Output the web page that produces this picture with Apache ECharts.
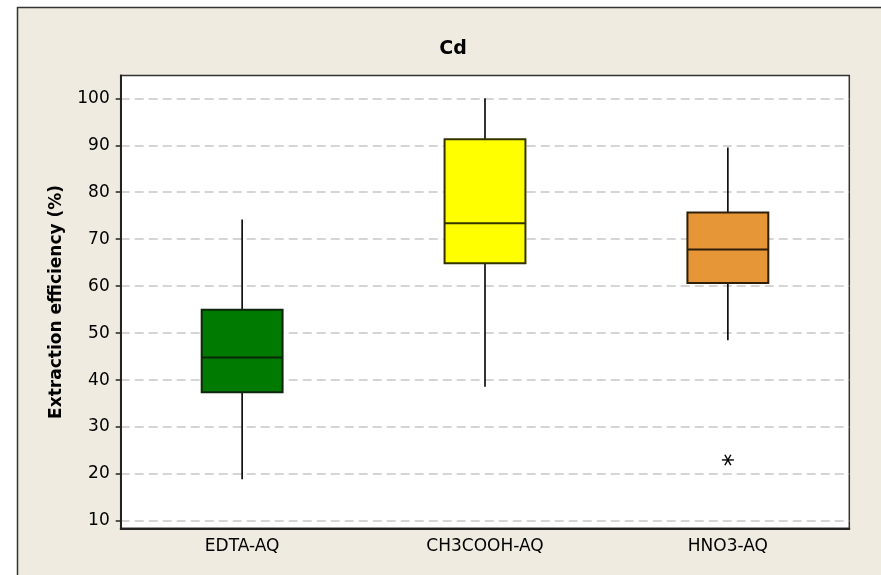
<!DOCTYPE html>
<html>
<head>
<meta charset="utf-8">
<script src="https://cdn.jsdelivr.net/npm/echarts@6/dist/echarts.min.js"></script>
<style>
html,body{margin:0;padding:0;background:#fff;}
#c{width:881px;height:575px;}
</style>
</head>
<body>
<div id="c"></div>
<script>
// ---- data ----
const categories = ['EDTA-AQ', 'CH3COOH-AQ', 'HNO3-AQ'];
const whiskerLow  = [18.9, 38.6, 48.5];
const q1          = [37.4, 64.9, 60.7];
const median      = [44.8, 73.4, 67.8];
const q3          = [55.0, 91.3, 75.7];
const whiskerHigh = [74.2, 100.0, 89.5];
const outlierCat  = [2];
const outlierVal  = [23.0];
const yTicks = [10, 20, 30, 40, 50, 60, 70, 80, 90, 100];

// ---- styles ----
const fills   = ['#007A00', '#FFFF00', '#E69637'];
const strokes = ['#0d260d', '#333300', '#2e1f0a'];
const FONT = 'DejaVu Sans';

const boxData = categories.map((c, i) => [i, whiskerLow[i], q1[i], median[i], q3[i], whiskerHigh[i]]);
const outData = outlierCat.map((c, i) => [c, outlierVal[i]]);

const chart = echarts.init(document.getElementById('c'), null, {renderer: 'canvas'});

chart.setOption({
  backgroundColor: '#ffffff',
  animation: false,
  graphic: [{
    type: 'rect', z: -10, silent: true,
    shape: {x: 17.5, y: 7.5, width: 900, height: 600},
    style: {fill: '#EFEBE1', stroke: '#333333', lineWidth: 1.5}
  }],
  title: {
    text: 'Cd', left: 448, top: 35, textAlign: 'center',
    textStyle: {fontFamily: FONT, fontSize: 19, fontWeight: 'bold', color: '#000'}
  },
  grid: {
    left: 120.7, top: 75.5, right: 31.7, bottom: 46.7,
    show: true, backgroundColor: '#ffffff', borderColor: '#333333', borderWidth: 1.5
  },
  xAxis: {
    type: 'category', data: categories,
    axisLine: {lineStyle: {color: '#222', width: 2}},
    axisTick: {alignWithLabel: true, length: 6, lineStyle: {color: '#222', width: 1.5}},
    axisLabel: {fontFamily: FONT, fontSize: 17, color: '#000', margin: 10},
    splitLine: {show: false}
  },
  yAxis: {
    type: 'value', min: 8.45, max: 104.85,
    name: 'Extraction efficiency (%)', nameLocation: 'middle', nameGap: 56,
    nameTextStyle: {fontFamily: FONT, fontSize: 17, fontWeight: 'bold', color: '#000'},
    axisLine: {show: true, lineStyle: {color: '#222', width: 2}},
    axisTick: {show: true, length: 5, customValues: yTicks, lineStyle: {color: '#222', width: 1.5}},
    axisLabel: {fontFamily: FONT, fontSize: 17, color: '#000', margin: 11, customValues: yTicks},
    splitLine: {show: true, lineStyle: {color: '#C8C8C8', width: 1.5, type: [9, 5]}}
  },
  series: [{
    type: 'custom',
    data: boxData,
    encode: {x: 0, y: [1, 2, 3, 4, 5]},
    renderItem: function (params, api) {
      const i = api.value(0);
      const band = api.size([1, 0])[0];
      const half = band * 0.333 / 2;
      const lo = api.coord([i, api.value(1)]);
      const b1 = api.coord([i, api.value(2)]);
      const md = api.coord([i, api.value(3)]);
      const b3 = api.coord([i, api.value(4)]);
      const hi = api.coord([i, api.value(5)]);
      const x = lo[0];
      const wl = {stroke: '#000', lineWidth: 1.6};
      return {
        type: 'group',
        children: [
          {type: 'line', shape: {x1: x, y1: hi[1], x2: x, y2: b3[1]}, style: wl},
          {type: 'line', shape: {x1: x, y1: b1[1], x2: x, y2: lo[1]}, style: wl},
          {type: 'rect', shape: {x: x - half, y: b3[1], width: half * 2, height: b1[1] - b3[1]},
           style: {fill: fills[i], stroke: strokes[i], lineWidth: 2}},
          {type: 'line', shape: {x1: x - half, y1: md[1], x2: x + half, y2: md[1]},
           style: {stroke: strokes[i], lineWidth: 2}}
        ]
      };
    }
  }, {
    type: 'custom',
    data: outData,
    encode: {x: 0, y: 1},
    renderItem: function (params, api) {
      const p = api.coord([api.value(0), api.value(1)]);
      const r = 6;
      const st = {stroke: '#000', lineWidth: 1.4};
      const dx = r * Math.cos(Math.PI / 3), dy = r * Math.sin(Math.PI / 3);
      return {
        type: 'group',
        children: [
          {type: 'line', shape: {x1: p[0] - r, y1: p[1], x2: p[0] + r, y2: p[1]}, style: st},
          {type: 'line', shape: {x1: p[0] - dx, y1: p[1] - dy, x2: p[0] + dx, y2: p[1] + dy}, style: st},
          {type: 'line', shape: {x1: p[0] + dx, y1: p[1] - dy, x2: p[0] - dx, y2: p[1] + dy}, style: st}
        ]
      };
    }
  }]
});
</script>
</body>
</html>
